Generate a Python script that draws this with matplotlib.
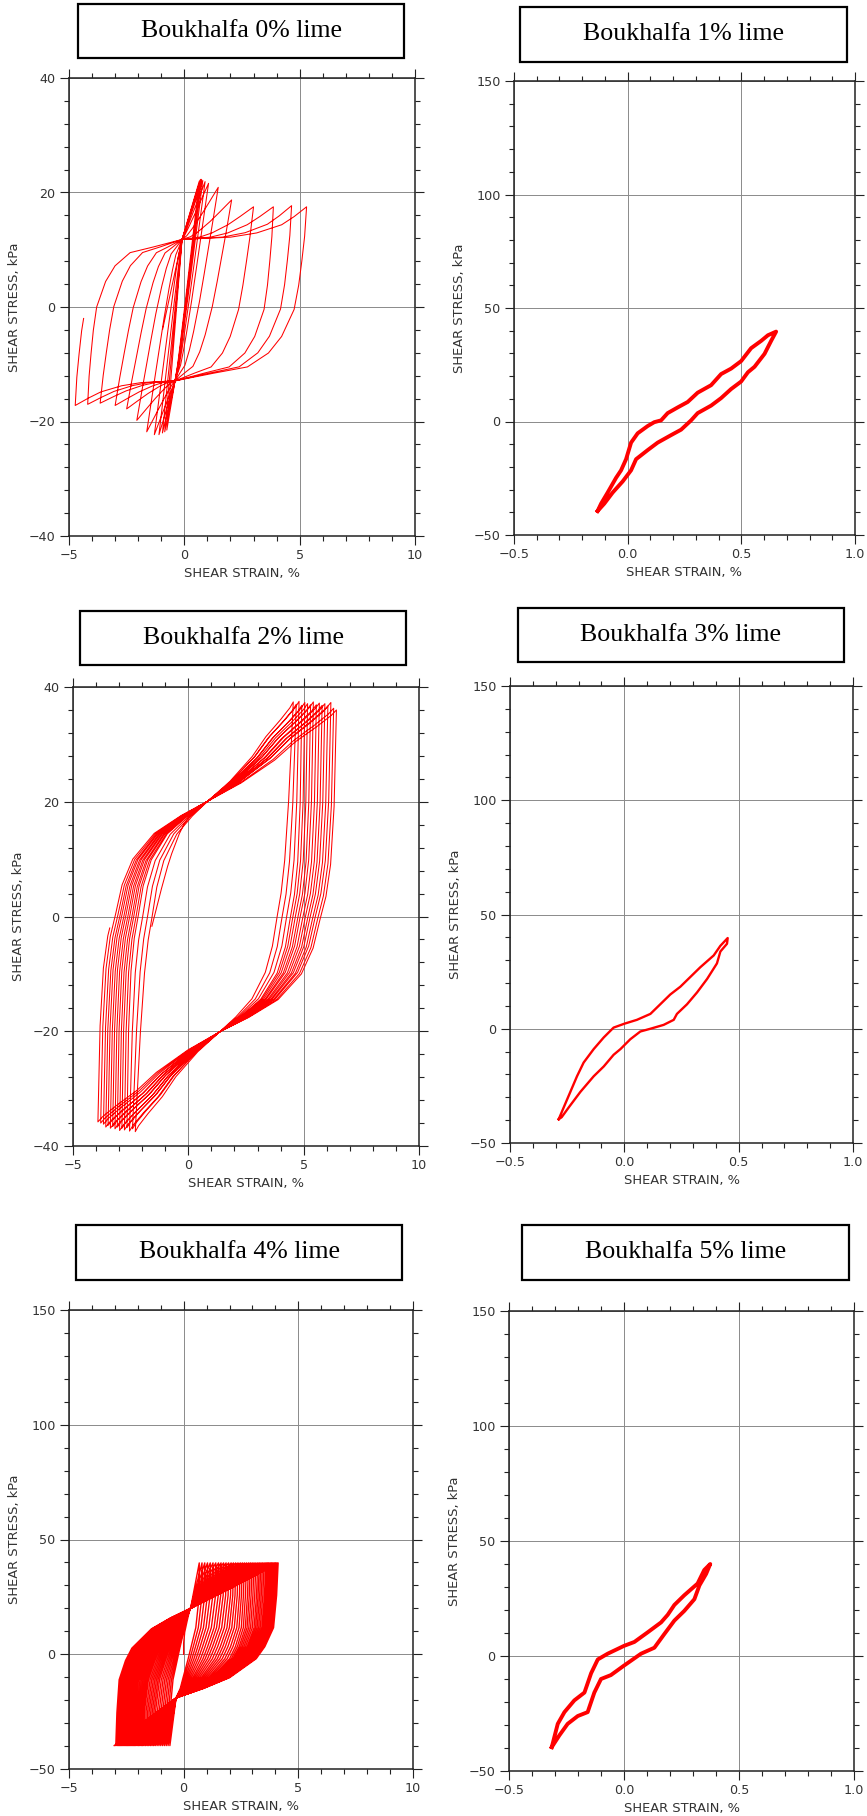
import numpy as np
import matplotlib.pyplot as plt
from matplotlib.patches import Rectangle
from matplotlib.ticker import MultipleLocator

# ---------------- data ----------------
# 0% lime : peak points of each cycle (strain %, stress kPa)
pos_strain_0 = [0.65, 0.70, 0.75, 0.80, 0.90, 1.05, 1.47, 2.05, 3.00, 3.86, 4.65, 5.30]
pos_stress_0 = [22.0, 22.3, 22.3, 22.1, 21.9, 21.6, 20.9, 18.7, 17.5, 17.5, 17.7, 17.5]
neg_strain_0 = [-0.76, -0.85, -0.95, -1.10, -1.30, -1.63, -2.06, -2.50, -3.00, -3.65, -4.19, -4.73]
neg_stress_0 = [-21.5, -21.8, -22.0, -22.3, -22.3, -21.8, -19.8, -17.8, -17.2, -16.8, -17.0, -17.2]
start_0 = (-0.94, -3.9)
stop_0 = -2.0
pivot_up_0 = (-0.1, 11.8)
pivot_dn_0 = (-0.4, -12.9)
# branch shape (fraction of stress / strain between peak and pivot)
t1_v_0 = [0, .17, .31, .45, .59, .745, .84, .92, .955, 1]
t1_box_0 = [0, .015, .036, .06, .095, .19, .29, .45, .70, 1]
t1_thin_0 = [0, .17, .31, .45, .59, .745, .84, .92, .955, 1]
t2_v_0 = [0, .07, .20, .45, .70, 1]
t2_box_0 = [0, .39, .60, .80, .90, 1]
t2_thin_0 = [0, .07, .20, .45, .70, 1]

# 1% lime
up_strain_1 = [-0.132, -0.117, -0.088, -0.051, -0.029, -0.007, 0.015, 0.044, 0.088, 0.117, 0.147,
               0.176, 0.220, 0.264, 0.308, 0.367, 0.411, 0.455, 0.499, 0.543, 0.587, 0.617, 0.653]
up_stress_1 = [-39.4, -36.2, -31.3, -24.8, -21.5, -16.6, -9.3, -5.2, -2.0, -0.3, 0.5,
               3.7, 6.2, 8.6, 12.7, 16.0, 20.9, 23.3, 26.6, 32.3, 35.5, 38.0, 39.6]
dn_strain_1 = [0.653, 0.631, 0.602, 0.558, 0.529, 0.499, 0.455, 0.411, 0.367, 0.308, 0.279,
               0.235, 0.191, 0.132, 0.088, 0.037, 0.015, -0.022, -0.066, -0.103, -0.132]
dn_stress_1 = [39.6, 35.5, 29.8, 24.1, 21.7, 17.6, 14.3, 10.3, 7.0, 3.7, 0.5,
               -3.6, -6.0, -9.3, -12.6, -16.6, -21.5, -26.4, -31.3, -36.2, -39.4]

# 2% lime
pos_strain_2 = [4.55, 4.68, 4.80, 4.92, 5.05, 5.17, 5.30, 5.42, 5.55, 5.68, 5.80, 5.92, 6.05, 6.18, 6.30, 6.42]
pos_stress_2 = [37.4, 37.0, 37.5, 36.8, 37.3, 37.1, 36.9, 37.4, 36.9, 37.2, 36.8, 37.1, 36.7, 37.3, 36.3, 36.0]
neg_strain_2 = [-2.30, -2.42, -2.55, -2.66, -2.77, -2.88, -2.98, -3.08, -3.18, -3.28, -3.38, -3.48, -3.58, -3.68, -3.80, -3.92]
neg_stress_2 = [-37.5, -37.0, -37.4, -36.8, -37.2, -36.9, -37.3, -36.7, -37.0, -36.6, -36.9, -36.4, -36.7, -36.2, -36.0, -35.8]
start_2 = (-1.58, -1.7)
stop_2 = -2.0
pivot_up_2 = (0.84, 20.1)
pivot_dn_2 = (1.36, -20.1)
t1_v_2 = [0, .30, .48, .58, .65, .74, .82, .90, .955, 1]
t1_box_2 = [0, .02, .05, .09, .14, .20, .30, .50, .75, 1]
t1_thin_2 = [0, .30, .48, .58, .65, .74, .82, .90, .955, 1]
t2_v_2 = [0, .20, .45, .65, .82, .94, 1]
t2_box_2 = [0, .26, .52, .68, .85, .96, 1]
t2_thin_2 = [0, .20, .45, .65, .82, .94, 1]

# 3% lime
up_strain_3 = [-0.287, -0.265, -0.236, -0.207, -0.178, -0.134, -0.090, -0.047, 0.0, 0.055,
               0.114, 0.157, 0.201, 0.245, 0.289, 0.332, 0.391, 0.420, 0.452]
up_stress_3 = [-39.6, -34.4, -27.6, -20.8, -14.8, -8.9, -3.8, 0.5, 2.2, 3.9,
               6.5, 10.7, 15.0, 18.4, 22.7, 26.9, 32.1, 36.3, 39.7]
dn_strain_3 = [0.452, 0.449, 0.420, 0.405, 0.362, 0.318, 0.274, 0.230, 0.216, 0.172, 0.114,
               0.070, 0.026, -0.017, -0.047, -0.090, -0.134, -0.192, -0.243, -0.274, -0.287]
dn_stress_3 = [39.7, 37.2, 33.8, 28.6, 21.8, 15.9, 10.7, 6.5, 3.9, 1.7, 0.0,
               -1.2, -4.6, -8.9, -11.4, -16.5, -20.8, -27.6, -34.4, -38.7, -39.6]

# 4% lime
pos_strain_4 = [0.68, 0.80, 0.92, 1.04, 1.16, 1.28, 1.40, 1.52, 1.63, 1.74,
                1.85, 1.96, 2.07, 2.17, 2.27, 2.37, 2.47, 2.56, 2.65, 2.74,
                2.83, 2.91, 2.99, 3.07, 3.15, 3.23, 3.30, 3.37, 3.44, 3.51,
                3.58, 3.64, 3.70, 3.76, 3.82, 3.88, 3.94, 4.00, 4.06, 4.12]
neg_strain_4 = [-0.60, -0.68, -0.76, -0.84, -0.92, -1.00, -1.08, -1.16, -1.24, -1.31,
                -1.38, -1.45, -1.52, -1.59, -1.66, -1.73, -1.79, -1.85, -1.91, -1.97,
                -2.03, -2.09, -2.15, -2.20, -2.25, -2.30, -2.35, -2.40, -2.45, -2.50,
                -2.55, -2.60, -2.65, -2.70, -2.75, -2.80, -2.85, -2.90, -2.96, -3.03]
peak_stress_4 = 39.8
start_4 = (0.0, 0.0)
pivot_up_4 = (0.30, 20.0)
pivot_dn_4 = (-0.33, -19.0)
t1_v_4 = [0, .24, .48, .62, .71, .85, .93, 1]
t1_box_4 = [0, .015, .045, .13, .215, .475, .73, 1]
t1_thin_4 = [0, 0, .15, .35, .48, .70, .82, 1]
t2_v_4 = [0, .48, .79, 1]
t2_box_4 = [0, .50, .80, 1]
t2_thin_4 = [0, .48, .79, 1]

# 5% lime
up_strain_5 = [-0.314, -0.288, -0.259, -0.216, -0.172, -0.143, -0.114, -0.071, 0.0,
               0.045, 0.103, 0.161, 0.190, 0.219, 0.262, 0.320, 0.349, 0.375]
up_stress_5 = [-39.6, -29.5, -24.4, -19.3, -15.9, -7.5, -1.5, 1.0, 4.4,
               6.1, 10.3, 14.6, 17.9, 22.2, 26.4, 31.5, 37.4, 40.0]
dn_strain_5 = [0.375, 0.357, 0.328, 0.306, 0.262, 0.219, 0.175, 0.132, 0.074,
               0.001, -0.057, -0.100, -0.129, -0.158, -0.201, -0.245, -0.281, -0.314]
dn_stress_5 = [40.0, 35.7, 30.7, 24.7, 19.6, 15.4, 9.5, 3.6, 1.0,
               -4.1, -8.3, -10.0, -15.9, -24.4, -26.1, -29.5, -34.5, -39.6]

titles = ['Boukhalfa 0% lime', 'Boukhalfa 1% lime', 'Boukhalfa 2% lime',
          'Boukhalfa 3% lime', 'Boukhalfa 4% lime', 'Boukhalfa 5% lime']

# ---------------- layout (pixels) ----------------
W, H = 867, 1816
axes_px = [(69, 78, 415, 536), (514, 81, 855, 535), (73, 687, 419, 1146),
           (510, 686, 853, 1143), (69, 1310, 413, 1769), (509, 1311, 854, 1771)]
box_px = [(78, 4, 404, 58), (520, 7, 847, 62), (80, 611, 406, 665),
          (518, 608, 844, 662), (76, 1225, 402, 1280), (522, 1225, 849, 1280)]

RED = '#ff0000'
TXT = '#333333'

fig = plt.figure(figsize=(W / 100, H / 100), dpi=100)


def leg(p, q, v, u_box, u_thin, rng):
    # one piece of a branch, p -> q, shape blends from thin to box with width
    v = np.asarray(v, float)
    d = abs(q[0] - p[0])
    w = np.clip((d - rng[0]) / (rng[1] - rng[0]), 0, 1)
    u = w * np.asarray(u_box, float) + (1 - w) * np.asarray(u_thin, float)
    return p[0] + u * (q[0] - p[0]), p[1] + v * (q[1] - p[1])


def half(a, b, piv, seg1, seg2):
    x1, y1 = leg(a, piv, *seg1)
    x2, y2 = leg(piv, b, *seg2)
    return np.r_[x1, x2[1:]], np.r_[y1, y2[1:]]


def cycles(start, px, py, nx, ny, p_up, p_dn, seg1, seg2, stop=None):
    xs, ys = [start[0]], [start[1]]
    cur = start
    for rx, ry, lx, ly in zip(px, py, nx, ny):
        for tgt, piv in (((rx, ry), p_up), ((lx, ly), p_dn)):
            x, y = half(cur, tgt, piv, seg1, seg2)
            xs.extend(x[1:])
            ys.extend(y[1:])
            cur = tgt
    if stop is not None:
        x, y = half(cur, (px[-1], py[-1]), p_up, seg1, seg2)
        i = int(np.argmax(y > stop))
        xe = np.interp(stop, [y[i - 1], y[i]], [x[i - 1], x[i]])
        xs.extend(list(x[1:i]) + [xe])
        ys.extend(list(y[1:i]) + [stop])
    return xs, ys


def make_axes(k, xlim, ylim, xmaj, xmin, ymaj, ymin):
    x0, y0, x1, y1 = axes_px[k]
    ax = fig.add_axes([x0 / W, 1 - y1 / H, (x1 - x0) / W, (y1 - y0) / H])
    ax.set_xlim(xlim)
    ax.set_ylim(ylim)
    ax.xaxis.set_major_locator(MultipleLocator(xmaj))
    ax.xaxis.set_minor_locator(MultipleLocator(xmin))
    ax.yaxis.set_major_locator(MultipleLocator(ymaj))
    ax.yaxis.set_minor_locator(MultipleLocator(ymin))
    ax.tick_params(which='both', direction='out', top=True, right=True,
                   color='#222222', labelcolor=TXT, labelsize=9.2)
    ax.tick_params(which='major', length=6.5, width=0.8, pad=3.2)
    ax.tick_params(which='minor', length=3.6, width=0.8)
    ax.grid(True, which='major', color='#8a8a8a', lw=0.7)
    ax.set_axisbelow(True)
    for s in ax.spines.values():
        s.set_linewidth(1.1)
        s.set_color('#222222')
    ax.set_xlabel('SHEAR STRAIN, %', fontsize=9.4, color=TXT)
    ax.set_ylabel('SHEAR STRESS, kPa', fontsize=9.4, color=TXT)
    ax.xaxis.set_label_coords(0.5, -0.068)
    ax.yaxis.set_label_coords(-0.14, 0.5)

    bx0, by0, bx1, by1 = box_px[k]
    fig.add_artist(Rectangle((bx0 / W, 1 - by1 / H), (bx1 - bx0) / W, (by1 - by0) / H,
                             transform=fig.transFigure, fill=False, lw=1.6, ec='black'))
    fig.text((bx0 + bx1) / 2 / W, 1 - (by0 + by1) / 2 / H, titles[k],
             ha='center', va='center', family='Liberation Serif', fontsize=18.6)
    return ax


# 0% lime
ax = make_axes(0, (-5, 10), (-40, 40), 5, 1, 20, 4)
x, y = cycles(start_0, pos_strain_0, pos_stress_0, neg_strain_0, neg_stress_0,
              pivot_up_0, pivot_dn_0,
              (t1_v_0, t1_box_0, t1_thin_0, (0.9, 4.0)),
              (t2_v_0, t2_box_0, t2_thin_0, (0.8, 5.0)), stop=stop_0)
ax.plot(x, y, color=RED, lw=0.75)

# 1% lime
ax = make_axes(1, (-0.5, 1.0), (-50, 150), 0.5, 0.1, 50, 10)
ax.plot(up_strain_1 + dn_strain_1, up_stress_1 + dn_stress_1, color=RED, lw=2.8,
        solid_joinstyle='round')

# 2% lime
ax = make_axes(2, (-5, 10), (-40, 40), 5, 1, 20, 4)
x, y = cycles(start_2, pos_strain_2, pos_stress_2, neg_strain_2, neg_stress_2,
              pivot_up_2, pivot_dn_2,
              (t1_v_2, t1_box_2, t1_thin_2, (1.5, 3.5)),
              (t2_v_2, t2_box_2, t2_thin_2, (1.0, 3.0)), stop=stop_2)
ax.plot(x, y, color=RED, lw=0.75)

# 3% lime
ax = make_axes(3, (-0.5, 1.0), (-50, 150), 0.5, 0.1, 50, 10)
ax.plot(up_strain_3 + dn_strain_3, up_stress_3 + dn_stress_3, color=RED, lw=1.7,
        solid_joinstyle='round')

# 4% lime
ax = make_axes(4, (-5, 10), (-50, 150), 5, 1, 50, 10)
n4 = len(pos_strain_4)
x, y = cycles(start_4, pos_strain_4, [peak_stress_4] * n4, neg_strain_4, [-peak_stress_4] * n4,
              pivot_up_4, pivot_dn_4,
              (t1_v_4, t1_box_4, t1_thin_4, (1.0, 3.0)),
              (t2_v_4, t2_box_4, t2_thin_4, (0.4, 3.5)))
ax.plot(x, y, color=RED, lw=1.0)

# 5% lime
ax = make_axes(5, (-0.5, 1.0), (-50, 150), 0.5, 0.1, 50, 10)
ax.plot(up_strain_5 + dn_strain_5, up_stress_5 + dn_stress_5, color=RED, lw=2.8,
        solid_joinstyle='round')

fig.savefig('out.png', dpi=100)
